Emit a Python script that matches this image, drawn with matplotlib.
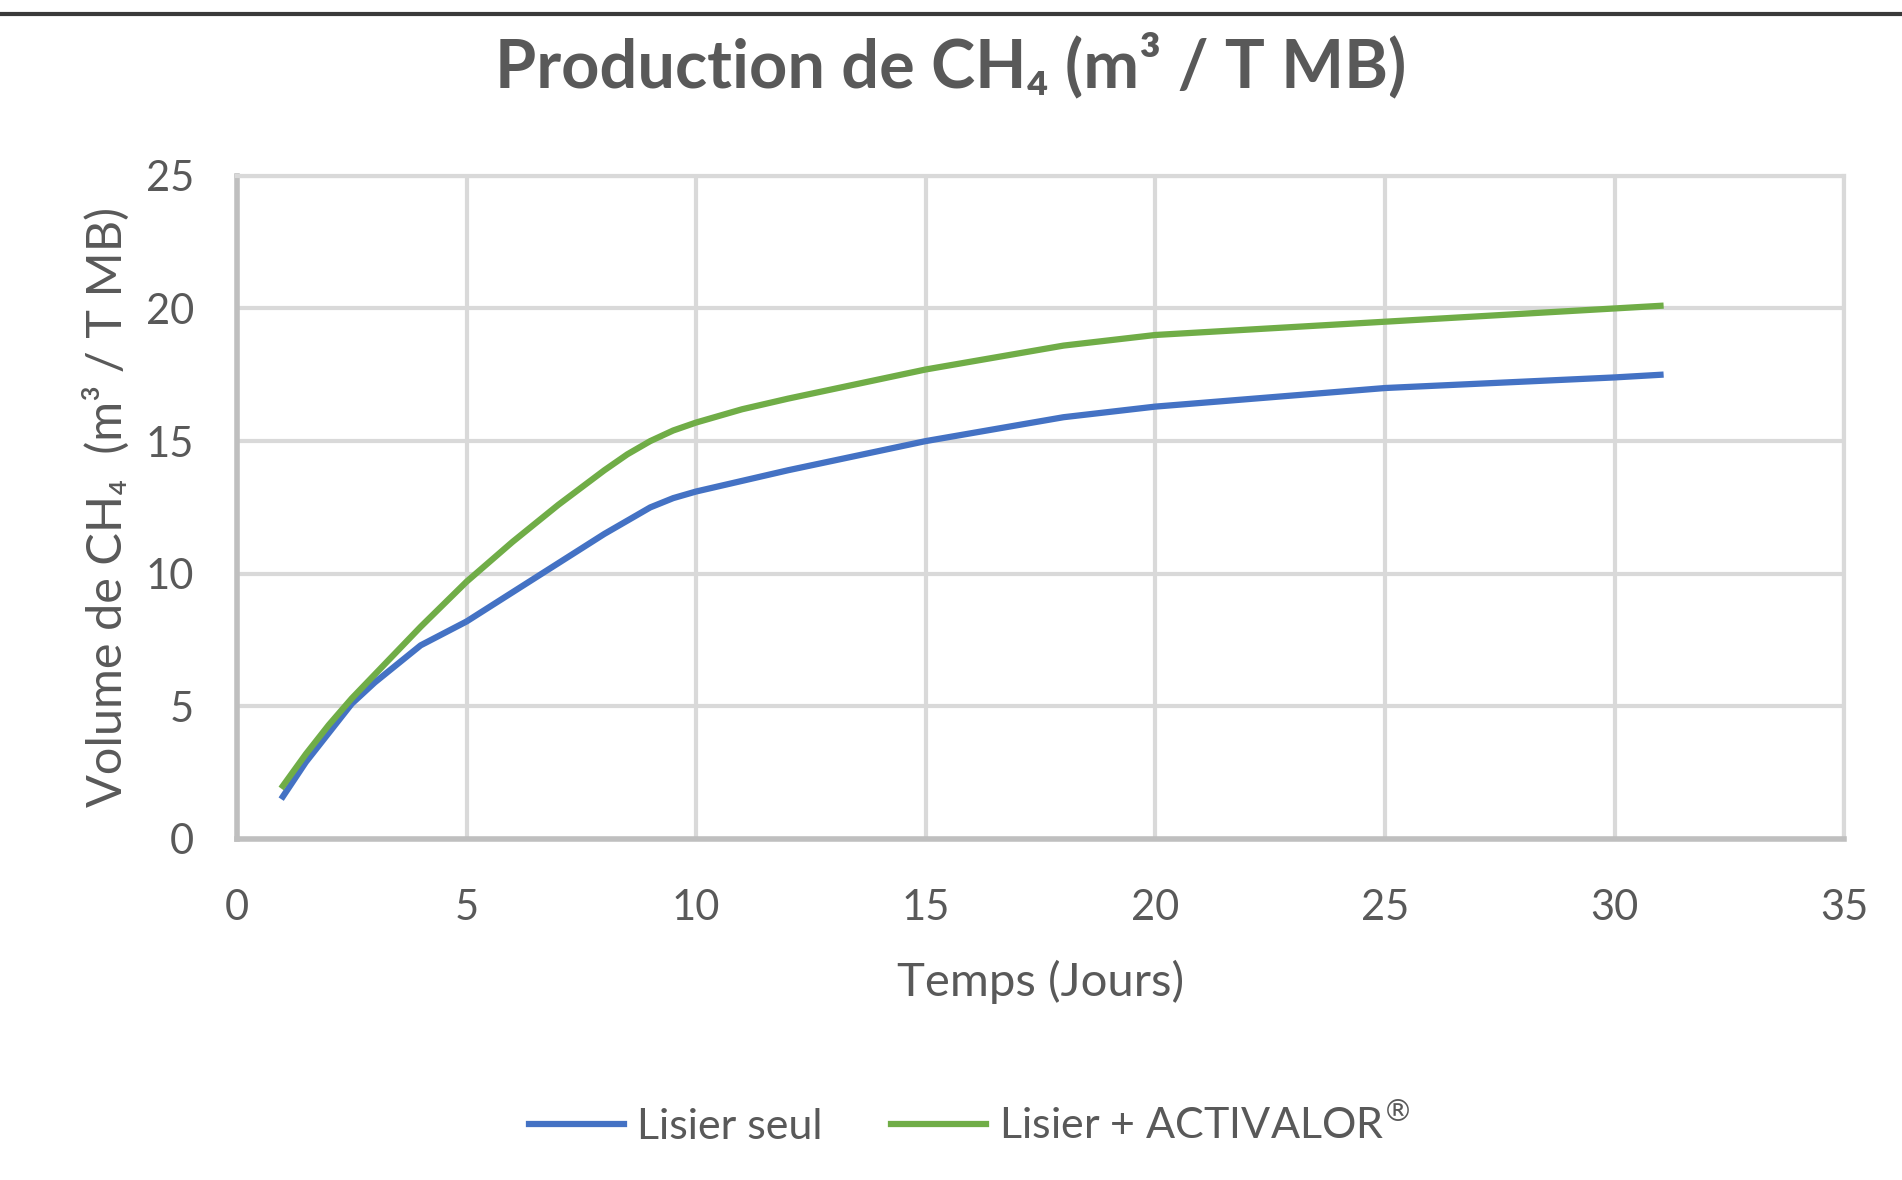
import matplotlib.pyplot as plt
from matplotlib.lines import Line2D

plt.rcParams['font.family'] = ['Lato', 'DejaVu Sans']

# values
jours = [1, 1.5, 2, 2.5, 3, 3.5, 4, 5, 6, 7, 8, 8.5, 9, 9.5, 10, 11, 12, 15,
         18, 20, 25, 30, 31]
lisier_seul = [1.6, 2.9, 4.0, 5.1, 5.9, 6.6, 7.3, 8.2, 9.3, 10.4, 11.5, 12.0,
               12.5, 12.85, 13.1, 13.5, 13.9, 15.0, 15.9, 16.3, 17.0, 17.4, 17.5]
lisier_activalor = [2.0, 3.2, 4.3, 5.3, 6.2, 7.1, 8.0, 9.7, 11.2, 12.6, 13.9,
                    14.5, 15.0, 15.4, 15.7, 16.2, 16.6, 17.7, 18.6, 19.0, 19.5,
                    20.0, 20.1]
xticks = [0, 5, 10, 15, 20, 25, 30, 35]
yticks = [0, 5, 10, 15, 20, 25]

grey_txt = '#595959'
fig = plt.figure(figsize=(19.02, 11.8), dpi=100)
ax = fig.add_axes([0.1246, 0.289, 0.845, 0.562])

ax.plot(jours, lisier_seul, color='#4472C4', lw=4.5, label='Lisier seul',
        solid_joinstyle='round')
ax.plot(jours, lisier_activalor, color='#70AD47', lw=4.5,
        label='Lisier + ACTIVALOR$^{®}$', solid_joinstyle='round')

ax.set_xlim(0, 35)
ax.set_ylim(0, 25)
ax.set_xticks(xticks)
ax.set_yticks(yticks)
ax.grid(True, color='#D9D9D9', lw=3)
ax.set_axisbelow(True)
ax.tick_params(length=0, labelsize=30, colors=grey_txt, pad=31)
ax.tick_params(axis='x', pad=36)
for s in ['top', 'right']:
    ax.spines[s].set_color('#D9D9D9')
    ax.spines[s].set_linewidth(3)
for s in ['left', 'bottom']:
    ax.spines[s].set_color('#BFBFBF')
    ax.spines[s].set_linewidth(4)

ax.set_xlabel('Temps (Jours)', fontsize=34, color=grey_txt, labelpad=24)
ax.set_ylabel('Volume de CH₄  (m³ / T MB)', fontsize=35, color=grey_txt,
              labelpad=11)
fig.suptitle('Production de CH₄ (m³ / T MB)', fontsize=48, fontweight='bold',
             color=grey_txt, y=0.972)

fig.legend(loc='center', bbox_to_anchor=(0.51, 0.047), ncol=2, frameon=False,
           fontsize=31, handlelength=2.2, handletextpad=0.3, columnspacing=1.6,
           labelcolor=grey_txt)

# dark frame line at the very top
fig.add_artist(Line2D([0, 1], [0.988, 0.988], color='#3a3a3a', lw=3))

fig.savefig('out.png', dpi=100, facecolor='white')
